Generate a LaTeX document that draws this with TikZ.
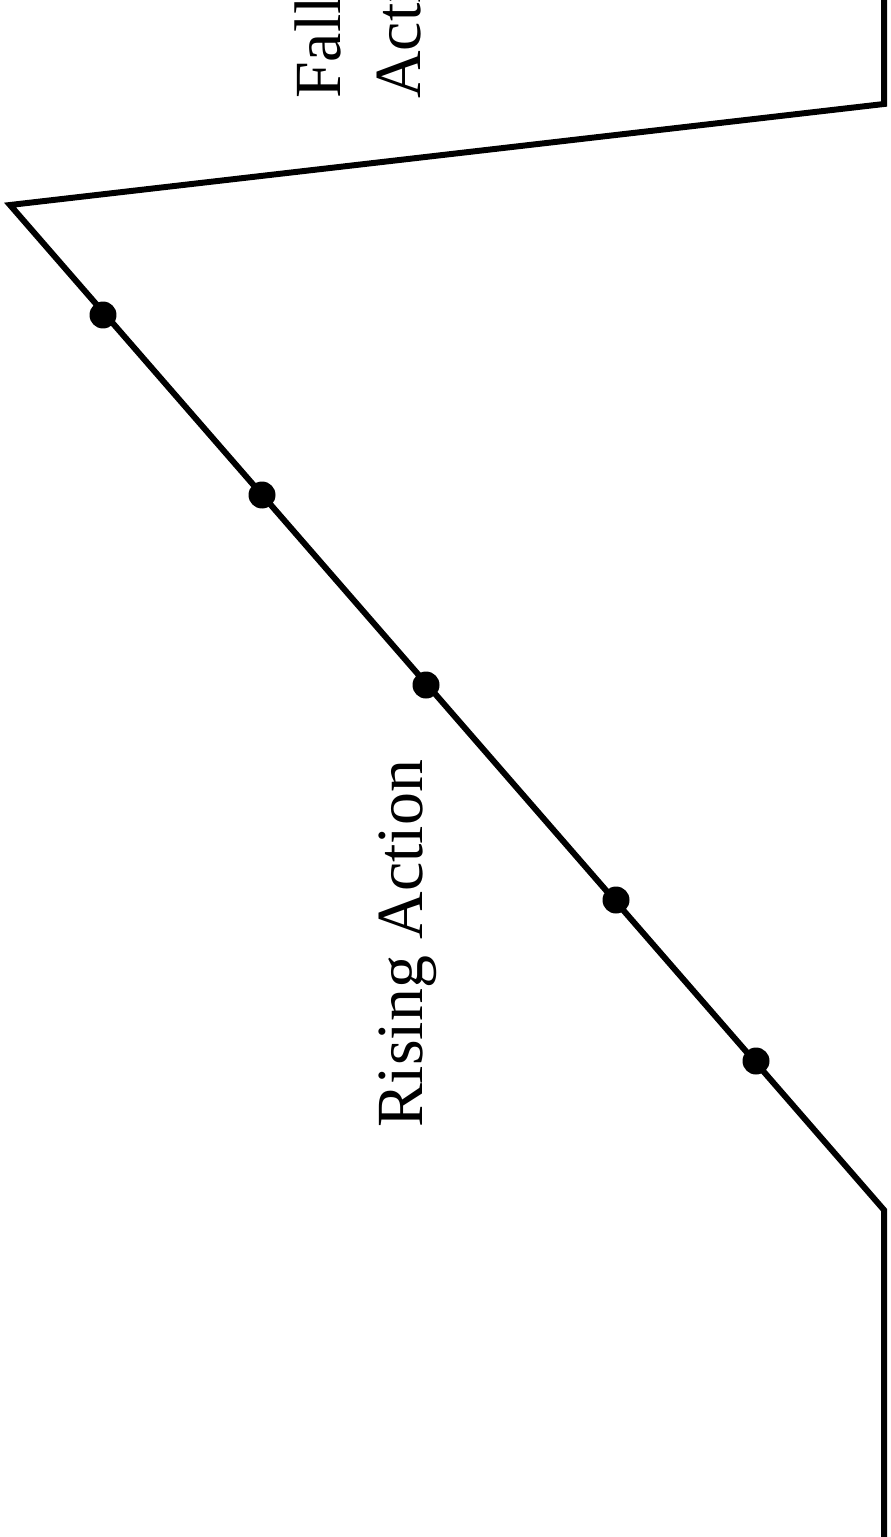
\documentclass[tikz,border=0pt]{standalone}
\usepackage{fontspec}
\setmainfont{Liberation Serif}
\begin{document}
\begin{tikzpicture}[x=0.02cm, y=-0.02cm,
  plotline/.style={line width=3.4pt, line join=miter, line cap=butt},
  event/.style={circle, fill=black, inner sep=0pt, minimum size=0.54cm},
  lbl/.style={font=\fontsize{37.5}{45.4}\selectfont, inner sep=0pt, rotate=90}]
\useasboundingbox (0,0) rectangle (890,1537);
\clip (0,0) rectangle (890,1537);
\coordinate (start) at (884,1545);
\coordinate (base) at (884,1210);
\coordinate (climax) at (10,205);
\coordinate (fallend) at (884,104);
\coordinate (finish) at (884,-10);
\draw[plotline] (start) -- (base) -- (climax) -- (fallend) -- (finish);
\node[event] (e1) at (756,1061) {};
\node[event] (e2) at (616,900) {};
\node[event] (e3) at (426,685) {};
\node[event] (e4) at (262,495) {};
\node[event] (e5) at (103,315) {};
\node[lbl, anchor=base] (rising) at (422,944) {Rising Action};
\node[lbl, anchor=base west, align=left] (falling) at (420,99) {Falling\\Action};
\end{tikzpicture}
\end{document}
